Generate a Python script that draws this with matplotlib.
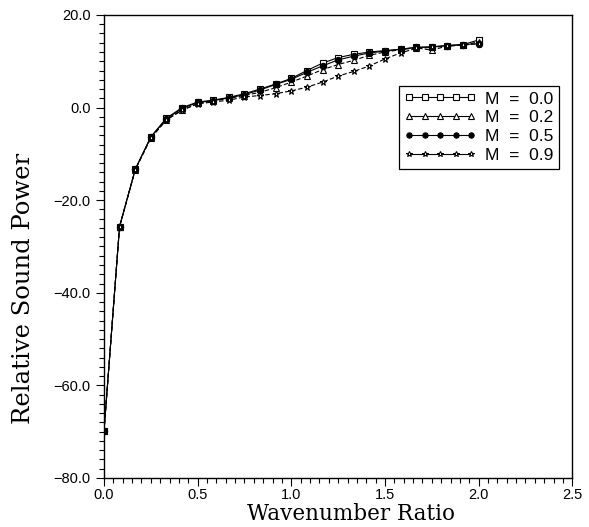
"""
Relative sound power against wavenumber ratio for four Mach numbers.
"""

import matplotlib
matplotlib.use("Agg")
import matplotlib.pyplot as plt
from matplotlib.ticker import MultipleLocator, FuncFormatter

# wavenumber ratio, sampled every 1/12
wavenumber_ratio = [
    0.0, 0.083, 0.167, 0.25, 0.333, 0.417, 0.5, 0.583, 0.667, 0.75,
    0.833, 0.917, 1.0, 1.083, 1.167, 1.25, 1.333, 1.417, 1.5, 1.583,
    1.667, 1.75, 1.833, 1.917, 2.0,
]

power_m00 = [
    -69.8, -25.7, -13.3, -6.3, -2.3, 0.0, 1.2, 1.6, 2.2, 3.0,
    4.0, 5.1, 6.3, 8.0, 9.6, 10.8, 11.5, 12.0, 12.3, 12.6,
    13.0, 13.1, 13.4, 13.6, 14.6,
]
power_m02 = [
    -69.8, -25.7, -13.4, -6.6, -2.7, -0.6, 0.9, 1.4, 2.0, 2.6,
    3.3, 4.3, 5.5, 6.8, 8.2, 9.3, 10.2, 11.3, 12.0, 12.5,
    12.9, 12.4, 13.3, 13.5, 14.2,
]
power_m05 = [
    -69.8, -25.7, -13.3, -6.4, -2.4, -0.2, 1.1, 1.5, 2.1, 2.8,
    3.8, 5.0, 6.1, 7.6, 9.0, 10.3, 11.1, 11.8, 12.2, 12.6,
    13.0, 13.1, 13.4, 13.6, 13.8,
]
power_m09 = [
    -69.8, -25.7, -13.4, -6.5, -2.6, -0.5, 0.8, 1.2, 1.6, 2.3,
    2.6, 3.0, 3.6, 4.4, 5.5, 6.8, 7.8, 9.0, 10.5, 11.8,
    12.8, 13.0, 13.3, 13.5, 13.8,
]

series = [
    ("M  =  0.0", power_m00, "s", "white", False),
    ("M  =  0.2", power_m02, "^", "white", True),
    ("M  =  0.5", power_m05, "o", "black", False),
    ("M  =  0.9", power_m09, "*", "white", True),
]

fig = plt.figure(figsize=(5.89, 5.27), dpi=100)
ax = fig.add_axes([0.1766, 0.093, 0.795, 0.8786])

for label, values, marker, face, dashed in series:
    ax.plot(wavenumber_ratio, values, color="black", lw=0.8, ms=4.5,
            mec="black", mew=0.8, marker=marker, mfc=face, label=label,
            dashes=(4, 2) if dashed else (None, None))

ax.set_xlim(0.0, 2.5)
ax.set_ylim(-80.0, 20.0)
ax.xaxis.set_major_locator(MultipleLocator(0.5))
ax.xaxis.set_minor_locator(MultipleLocator(0.05))
ax.yaxis.set_major_locator(MultipleLocator(20.0))
ax.yaxis.set_minor_locator(MultipleLocator(2.0))
fmt = FuncFormatter(lambda v, pos: f"{v:.1f}".replace("-", "\u2212"))
ax.xaxis.set_major_formatter(fmt)
ax.yaxis.set_major_formatter(fmt)

ax.tick_params(which="both", direction="out", color="black", width=0.8,
               labelsize=10.5, top=False, right=False)
ax.tick_params(which="major", length=6)
ax.tick_params(which="minor", length=3.5)
ax.tick_params(axis="x", which="major", pad=1.5)
for lab in ax.get_xticklabels() + ax.get_yticklabels():
    lab.set_family("Liberation Sans")

for sp in ax.spines.values():
    sp.set_linewidth(1.0)

ax.set_xlabel("Wavenumber Ratio", family="DejaVu Serif", fontsize=15.5, labelpad=0)
ax.xaxis.set_label_coords(0.528, -0.054)
ax.set_ylabel("Relative Sound Power", family="DejaVu Serif", fontsize=17.5)
ax.yaxis.set_label_coords(-0.148, 0.41)

leg = ax.legend(loc="upper right", bbox_to_anchor=(0.99, 0.865), numpoints=5,
                handlelength=4.2, handletextpad=0.5, borderpad=0.3,
                labelspacing=0.22, fancybox=False, framealpha=1.0,
                prop={"family": "Liberation Sans", "size": 12.5})
leg.get_frame().set_edgecolor("black")
leg.get_frame().set_linewidth(0.9)
for h in leg.legend_handles:
    h.set_linestyle("-")
    h.set_markersize(3.8)

fig.savefig("out.png", dpi=100)
